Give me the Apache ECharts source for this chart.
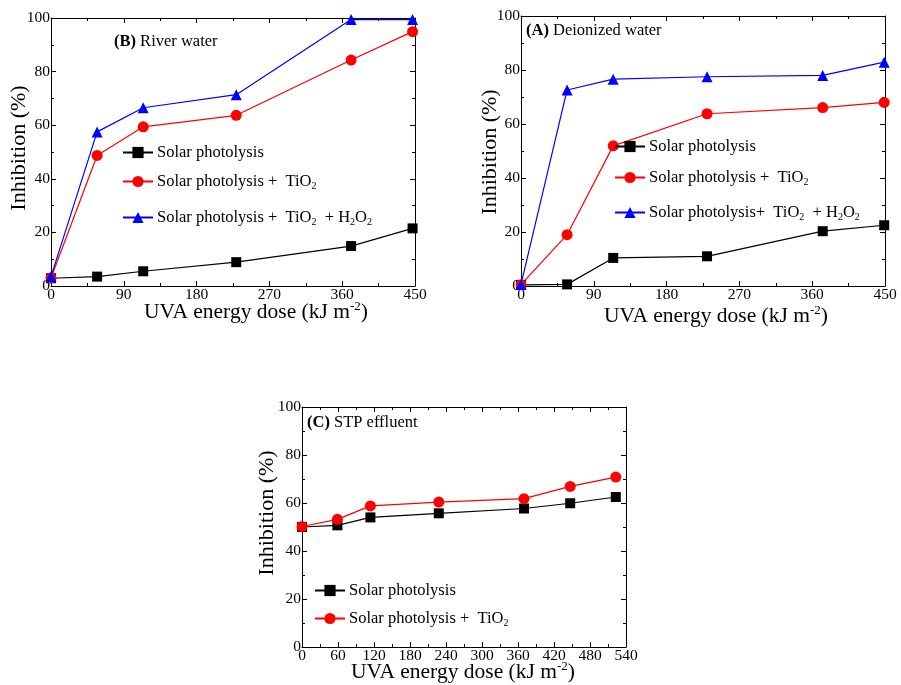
<!DOCTYPE html>
<html><head><meta charset="utf-8">
<script src="https://cdn.jsdelivr.net/npm/echarts@6/dist/echarts.min.js"></script>
<style>html,body{margin:0;padding:0;background:#fff}#c{width:901px;height:685px}</style>
</head><body><div id="c"></div>
<script>
// ---- Data ----
// Panel (B) River water
const doseB  = [0, 57, 114, 229, 371, 447];
const solarB = [2.9, 3.5, 5.5, 8.9, 14.9, 21.5];
const tio2B  = [3.0, 48.7, 59.4, 63.7, 84.3, 94.9];
const h2o2B  = [3.5, 57.5, 66.5, 71.4, 99.4, 99.4];
// Panel (A) Deionized water
const doseA  = [0, 57, 114, 230, 373, 449];
const solarA = [0.4, 0.6, 10.4, 11.0, 20.3, 22.5];
const tio2A  = [0.5, 19.0, 51.9, 63.8, 66.1, 68.0];
const h2o2A  = [0.6, 72.6, 76.6, 77.5, 78.0, 82.9];
// Panel (C) STP effluent
const doseC  = [0, 59, 114, 228, 370, 447, 523];
const solarC = [50.0, 50.7, 54.0, 55.7, 57.7, 59.9, 62.5];
const tio2C  = [50.2, 53.2, 58.8, 60.4, 61.8, 66.9, 70.8];

// axis ranges / tick steps
const xRangeAB = [0, 450, 90];
const xRangeC  = [0, 540, 60];
const yRange   = [0, 100, 20];

// texts
const titles = ['(B)|River water', '(A)|Deionized water', '(C)|STP effluent'];
const yTitle = 'Inhibition (%)';
const xTitle = 'UVA energy dose (kJ m|-2|)';
const legendText = {
  B1: 'Solar photolysis', B2: 'Solar photolysis +  TiO2', B3: 'Solar photolysis +  TiO2  + H2O2',
  A1: 'Solar photolysis', A2: 'Solar photolysis +  TiO2', A3: 'Solar photolysis+  TiO2  + H2O2',
  C1: 'Solar photolysis', C2: 'Solar photolysis +  TiO2'
};

// ---- Chart ----
const FONT = 'Liberation Serif, Times New Roman, serif';
const chart = echarts.init(document.getElementById('c'), null, {renderer: 'canvas'});

const grids = [
  {left: 51, top: 18, width: 364, height: 268},
  {left: 521, top: 16, width: 364, height: 270},
  {left: 302, top: 407, width: 324, height: 240}
].map(g => Object.assign({outerBoundsMode: 'none', containLabel: false, show: false}, g));

function ax(g, pos, r, labels) {
  return {gridIndex: g, type: 'value', position: pos, min: r[0], max: r[1], interval: r[2],
    axisLine: {show: true, onZero: false, lineStyle: {color: '#000', width: 1}},
    axisTick: {show: true, inside: true, length: 5, lineStyle: {color: '#000'}},
    minorTick: {show: true, splitNumber: 2, length: 3, lineStyle: {color: '#000'}},
    axisLabel: {show: labels, margin: 1, color: '#000', fontFamily: FONT, fontSize: 15.5},
    splitLine: {show: false}, minorSplitLine: {show: false}};
}

const xAxes = [], yAxes = [];
[xRangeAB, xRangeAB, xRangeC].forEach((r, g) => {
  xAxes.push(ax(g, 'bottom', r, true), ax(g, 'top', r, false));
  yAxes.push(ax(g, 'left', yRange, true), ax(g, 'right', yRange, false));
});

const STY = {
  1: {color: '#000000', symbol: 'rect', size: 10},
  2: {color: '#ff0000', symbol: 'circle', size: 11},
  3: {color: '#0000ff', symbol: 'triangle', size: 11}
};
function line(name, g, xs, ys) {
  const s = STY[name[1]];
  return {type: 'line', name, xAxisIndex: g * 2, yAxisIndex: g * 2,
    data: xs.map((x, i) => [x, ys[i]]), symbol: s.symbol, symbolSize: s.size,
    clip: false, animation: false,
    lineStyle: {color: s.color, width: 1.2}, itemStyle: {color: s.color},
    emphasis: {disabled: true}};
}
const series = [
  line('B1', 0, doseB, solarB), line('B2', 0, doseB, tio2B), line('B3', 0, doseB, h2o2B),
  line('A1', 1, doseA, solarA), line('A2', 1, doseA, tio2A), line('A3', 1, doseA, h2o2A),
  line('C1', 2, doseC, solarC), line('C2', 2, doseC, tio2C)
];

function toRich(label) {
  return label.replace(/([^0-9]+)|([0-9]+)/g, (m, a, b) => a ? '{t|' + a + '}' : '{s|' + b + '}');
}
function leg(name, left, centerY) {
  return {data: [name], left, top: centerY - 10, orient: 'horizontal', padding: 0,
    itemWidth: 30, itemHeight: 14, itemGap: 0, selectedMode: false,
    textStyle: {fontFamily: FONT, fontSize: 16.5, color: '#000', padding: [0, 0, 0, -1],
      rich: {t: {fontFamily: FONT, fontSize: 16.5, lineHeight: 20, color: '#000'},
             s: {fontFamily: FONT, fontSize: 10, lineHeight: 4, verticalAlign: 'bottom', color: '#000'}}},
    formatter: n => toRich(legendText[n])};
}
const legends = [
  leg('B1', 122, 154), leg('B2', 122, 183), leg('B3', 122, 219),
  leg('A1', 614, 148), leg('A2', 614, 179), leg('A3', 614, 214),
  leg('C1', 314, 592), leg('C2', 314, 620)
];

function titleText(t, x, y) {
  const p = t.split('|');
  return {type: 'text', x, y, style: {text: '{b|' + p[0] + '} ' + p[1], fontFamily: FONT, fontSize: 16.5,
    fill: '#000', verticalAlign: 'middle', rich: {b: {fontWeight: 'bold', fontFamily: FONT, fontSize: 16.5}}}};
}
function xTitleText(x, y) {
  const p = xTitle.split('|');
  return {type: 'text', x, y, style: {
    text: '{a|' + p[0] + '}{p|' + p[1] + '}{a|' + p[2] + '}', fontFamily: FONT, fontSize: 21.5, fill: '#000',
    align: 'center', verticalAlign: 'middle',
    rich: {a: {fontFamily: FONT, fontSize: 21.5, lineHeight: 24},
           p: {fontFamily: FONT, fontSize: 13, lineHeight: 14, verticalAlign: 'top'}}}};
}
function yTitleText(x, y) {
  return {type: 'text', x, y, rotation: Math.PI / 2, style: {text: yTitle, fontFamily: FONT, fontSize: 22,
    fill: '#000', align: 'center', verticalAlign: 'middle'}};
}

const graphic = [
  titleText(titles[0], 114, 42), titleText(titles[1], 526, 31), titleText(titles[2], 307, 423),
  xTitleText(256, 312), xTitleText(716, 316), xTitleText(463, 672),
  yTitleText(19, 148), yTitleText(490, 152), yTitleText(267, 513)
];

chart.setOption({
  backgroundColor: '#fff',
  animation: false,
  grid: grids,
  xAxis: xAxes,
  yAxis: yAxes,
  legend: legends,
  series,
  graphic
});
</script></body></html>
